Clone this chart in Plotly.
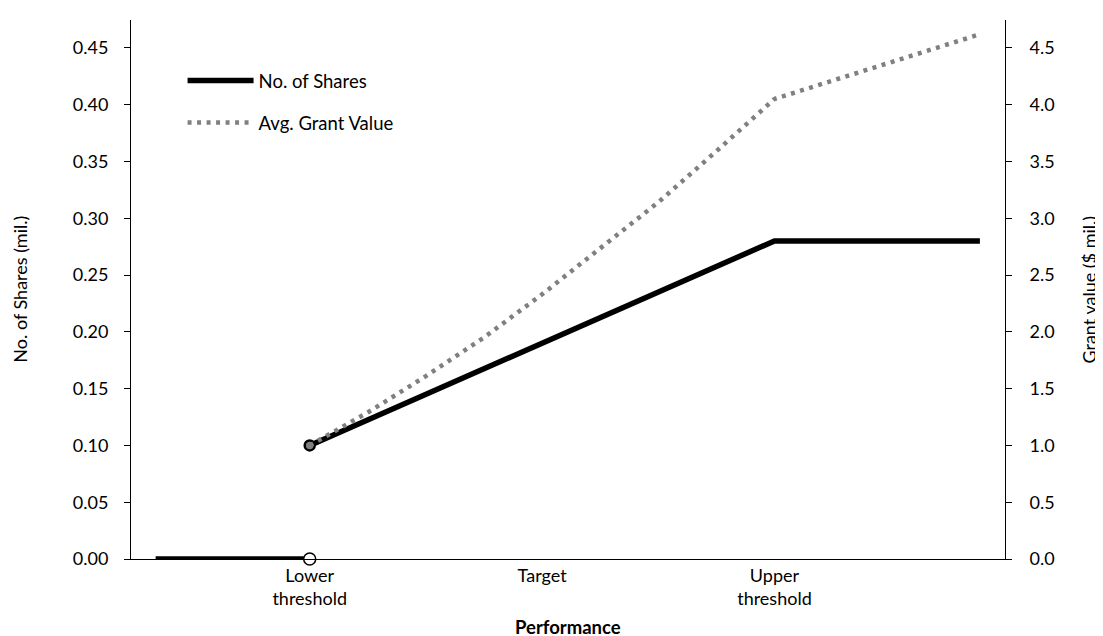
import plotly.graph_objects as go

# performance positions: 0 = lower threshold, 1 = target, 2 = upper threshold
tick_vals = [0, 1, 2]
tick_text = ['Lower<br>threshold', 'Target', 'Upper<br>threshold']

# number of shares (mil.), None splits the jump at the lower threshold
shares_x = [-0.663, 0, None, 0, 2, 2.884]
shares_y = [0, 0, None, 0.10, 0.28, 0.28]

# average grant value ($ mil.)
value_x = [0, 0.25, 0.5, 0.75, 1, 1.25, 1.5, 1.75, 2, 2.884]
value_y = [1.00, 1.29, 1.61, 1.95, 2.33, 2.73, 3.14, 3.59, 4.05, 4.62]

_font = 'Lato'
_fontsize = 18
_grey = 'rgb(128,128,128)'

fig = go.Figure()

fig.add_trace(go.Scatter(
    x=shares_x,
    y=shares_y,
    mode='lines',
    name='No. of Shares',
    legendgroup='shares',
    line=dict(color='black', width=5.5),
))

fig.add_trace(go.Scatter(
    x=value_x,
    y=value_y,
    yaxis='y2',
    mode='lines',
    name='Avg. Grant Value',
    legendgroup='value',
    line=dict(color=_grey, width=4.5, dash='4px,5.5px'),
))

# open circle where shares drop to zero
fig.add_trace(go.Scatter(
    x=[shares_x[1]],
    y=[shares_y[1]],
    mode='markers',
    showlegend=False,
    cliponaxis=False,
    marker=dict(size=12, color='white', line=dict(color='black', width=1.5)),
))

# filled start point of both series
fig.add_trace(go.Scatter(
    x=[shares_x[3]],
    y=[shares_y[3]],
    mode='markers',
    showlegend=False,
    marker=dict(size=10, color=_grey, line=dict(color='black', width=2.5)),
))

fig.update_layout(
    width=1103,
    height=636,
    margin=dict(l=123, r=106, t=12, b=85),
    plot_bgcolor='white',
    paper_bgcolor='white',
    font=dict(family=_font, size=_fontsize, color='black'),
    showlegend=True,
    legend=dict(
        x=0.059,
        y=0.922,
        xanchor='left',
        yanchor='top',
        bgcolor='rgba(0,0,0,0)',
        itemwidth=66,
        traceorder='grouped',
        tracegroupgap=15,
        font=dict(size=18.5),
    ),
    xaxis=dict(
        range=[-0.769, 2.992],
        tickmode='array',
        tickvals=tick_vals,
        ticktext=tick_text,
        showline=True,
        linecolor='black',
        linewidth=1,
        showgrid=False,
        zeroline=False,
        ticks='',
    ),
    yaxis=dict(
        range=[0, 0.4745],
        dtick=0.05,
        tickformat='.2f',
        showline=True,
        linecolor='black',
        linewidth=1,
        showgrid=False,
        zeroline=False,
        ticks='outside',
        ticklen=6,
        tickcolor='black',
        ticklabelstandoff=12,
    ),
    yaxis2=dict(
        overlaying='y',
        side='right',
        range=[0, 4.745],
        dtick=0.5,
        tickformat='.1f',
        showline=True,
        linecolor='black',
        linewidth=1,
        showgrid=False,
        zeroline=False,
        ticks='outside',
        ticklen=6,
        tickcolor='black',
        ticklabelstandoff=14,
    ),
    annotations=[
        dict(text='No. of Shares (mil.)', textangle=-90, showarrow=False,
             xref='paper', yref='paper', x=-0.128, y=0.5,
             xanchor='center', yanchor='middle'),
        dict(text='Grant value ($ mil.)', textangle=-90, showarrow=False,
             xref='paper', yref='paper', x=1.095, y=0.5,
             xanchor='center', yanchor='middle'),
        dict(text='<b>Performance</b>', showarrow=False,
             xref='paper', yref='paper', x=0.5, y=-0.126,
             xanchor='center', yanchor='middle', font=dict(size=18.5)),
    ],
)

fig.write_html('out.html')
